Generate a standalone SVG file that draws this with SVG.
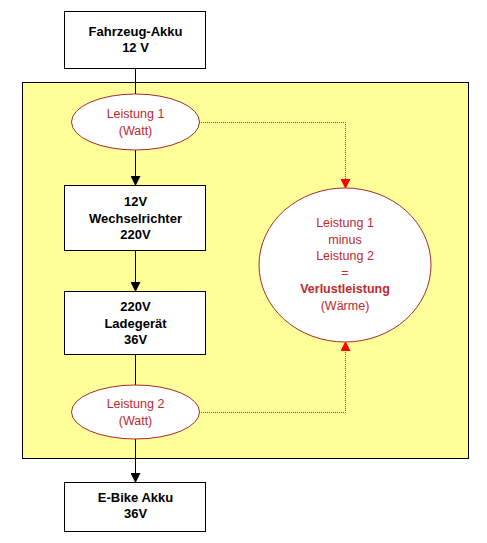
<svg xmlns="http://www.w3.org/2000/svg" width="487" height="543" viewBox="0 0 487 543">
<style>
.box{fill:#fff;stroke:#000;stroke-width:1}
.ell{fill:#fff;stroke:#a52a2a;stroke-width:1}
.bt{font-family:"Liberation Sans",Arial,sans-serif;font-size:13px;font-weight:bold;fill:#000;text-anchor:middle}
.rt{font-family:"Liberation Sans",Arial,sans-serif;font-size:12.5px;fill:#c0282d;text-anchor:middle}
.rtb{font-weight:bold}
.blk{stroke:#000;stroke-width:1;fill:none}
.dot{stroke:#d03030;stroke-width:1;fill:none;stroke-dasharray:1 1}
</style>
<defs>
<marker id="ab" markerWidth="10" markerHeight="10" refX="9" refY="5" orient="auto" markerUnits="userSpaceOnUse">
<path d="M0,0 L10,5 L0,10 Z" fill="#000"/>
</marker>
<marker id="ar" markerWidth="10" markerHeight="10" refX="9" refY="5" orient="auto" markerUnits="userSpaceOnUse">
<path d="M0,0 L10,5 L0,10 Z" fill="#ff0000"/>
</marker>
</defs>
<rect x="0" y="0" width="487" height="543" fill="#fff"/>
<rect id="frame" x="22.5" y="82.5" width="446" height="376" fill="#ffff99" stroke="#000" stroke-width="1"/>
<g id="connectors">
<line class="blk" x1="135.5" y1="68.5" x2="135.5" y2="94"/>
<line class="blk" x1="135.5" y1="150" x2="135.5" y2="185" marker-end="url(#ab)"/>
<line class="blk" x1="135.5" y1="251" x2="135.5" y2="291" marker-end="url(#ab)"/>
<line class="blk" x1="135.5" y1="355" x2="135.5" y2="385"/>
<line class="blk" x1="135.5" y1="439" x2="135.5" y2="482" marker-end="url(#ab)"/>
<polyline class="dot" points="199,122.5 345.5,122.5 345.5,188" marker-end="url(#ar)"/>
<polyline class="dot" points="199,412.5 345.5,412.5 345.5,342" marker-end="url(#ar)"/>
</g>
<g id="fahrzeug">
<rect class="box" x="64.5" y="11.5" width="141" height="57"/>
<text class="bt" x="135.5" y="36">Fahrzeug-Akku</text>
<text class="bt" x="135.5" y="52">12 V</text>
</g>
<g id="leistung1">
<ellipse class="ell" cx="135.5" cy="122" rx="64" ry="28"/>
<text class="rt" x="135.5" y="118">Leistung 1</text>
<text class="rt" x="135.5" y="135">(Watt)</text>
</g>
<g id="wechselrichter">
<rect class="box" x="64.5" y="185.5" width="141" height="65"/>
<text class="bt" x="135.5" y="206">12V</text>
<text class="bt" x="135.5" y="222.5">Wechselrichter</text>
<text class="bt" x="135.5" y="239">220V</text>
</g>
<g id="ladegeraet">
<rect class="box" x="64.5" y="291.5" width="141" height="63"/>
<text class="bt" x="135.5" y="311">220V</text>
<text class="bt" x="135.5" y="328">Ladegerät</text>
<text class="bt" x="135.5" y="344">36V</text>
</g>
<g id="leistung2">
<ellipse class="ell" cx="135.5" cy="412" rx="64" ry="27"/>
<text class="rt" x="135.5" y="408">Leistung 2</text>
<text class="rt" x="135.5" y="425">(Watt)</text>
</g>
<g id="ebike">
<rect class="box" x="64.5" y="482.5" width="141" height="49"/>
<text class="bt" x="135.5" y="502">E-Bike Akku</text>
<text class="bt" x="135.5" y="518">36V</text>
</g>
<g id="verlust">
<ellipse class="ell" cx="345" cy="265" rx="86" ry="77"/>
<text class="rt" x="345" y="227">Leistung 1</text>
<text class="rt" x="345" y="243.5">minus</text>
<text class="rt" x="345" y="260">Leistung 2</text>
<text class="rt" x="345" y="276.5">=</text>
<text class="rt rtb" x="345" y="293">Verlustleistung</text>
<text class="rt" x="345" y="310">(Wärme)</text>
</g>
</svg>
